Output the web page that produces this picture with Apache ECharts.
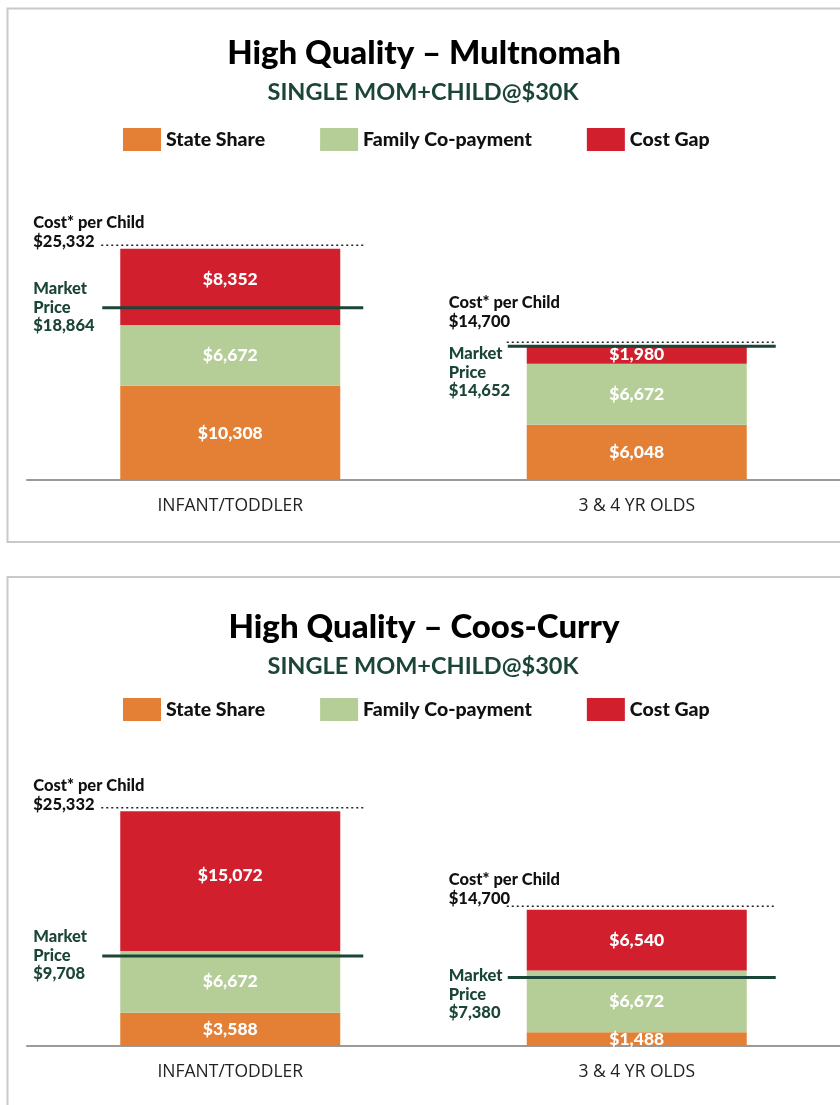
<!DOCTYPE html>
<html><head><meta charset="utf-8">
<script src="https://cdn.jsdelivr.net/npm/echarts@6/dist/echarts.min.js"></script>
<style>html,body{margin:0;padding:0;background:#fff}#c{width:840px;height:1105px}</style>
</head><body><div id="c"></div>
<script>
// ---------- data ----------
const categories = ['INFANT/TODDLER', '3 & 4 YR OLDS'];
const seriesNames = ['State Share', 'Family Co-payment', 'Cost Gap'];
const panelTitles = ['High Quality – Multnomah', 'High Quality – Coos-Curry'];
const subtitle = 'SINGLE MOM+CHILD@$30K';
const costLabel = 'Cost* per Child';
const marketLabel = ['Market', 'Price'];

// Multnomah
const multState = [10308, 6048];
const multCopay = [6672, 6672];
const multGap = [8352, 1980];
const multCost = [25332, 14700];
const multMarket = [18864, 14652];
// Coos-Curry
const coosState = [3588, 1488];
const coosCopay = [6672, 6672];
const coosGap = [15072, 6540];
const coosCost = [25332, 14700];
const coosMarket = [9708, 7380];

const yMax = 30000;

// ---------- style / layout ----------
const FONT = 'Lato, "Open Sans", sans-serif';
const FONT_REG = '"Open Sans", Lato, sans-serif';
const C_ORANGE = '#E38035', C_GREEN = '#B5CE98', C_RED = '#D11F2E', C_DARK = '#1B4536';
const panels = [
  { state: multState, copay: multCopay, gap: multGap, cost: multCost, market: multMarket,
    border: 8.5, titleY: 53, subY: 92, legendTop: 128, gridTop: 206, gridH: 274,
    costShift: [0, -18], marketShift: [0, 26.5], gapLabelDy: [-7, 0] },
  { state: coosState, copay: coosCopay, gap: coosGap, cost: coosCost, market: coosMarket,
    border: 577, titleY: 627, subY: 666, legendTop: 698, gridTop: 768, gridH: 278,
    costShift: [0, -5], marketShift: [0, 18], gapLabelDy: [-6, 0] }
];
const LABEL_DX = [-197, -188];
const LINE_EXT = [[-129, 133], [-130, 139]];

const fmt = v => '$' + Number(v).toLocaleString('en-US');

function refRender(p) {
  return function (params, api) {
    const i = api.value(0);
    const cost = api.value(1), market = api.value(2);
    const pc = api.coord([i, cost]);
    const pm = api.coord([i, market]);
    const cx = pc[0];
    const ext = LINE_EXT[i];
    const lx = cx + LABEL_DX[i];
    const yc = pc[1] - 3.5;
    const ym = pm[1];
    const cs = p.costShift[i], ms = p.marketShift[i];
    const txt = (t, x, y, color) => ({
      type: 'text', x: x, y: y,
      style: { text: t, fill: color, font: '900 16.5px ' + FONT, align: 'left', verticalAlign: 'middle' }
    });
    return {
      type: 'group',
      children: [
        { type: 'line', shape: { x1: cx + ext[0], y1: yc, x2: cx + ext[1], y2: yc },
          style: { stroke: '#222', lineWidth: 1.5, lineDash: [2, 3] } },
        { type: 'line', shape: { x1: cx + ext[0] + 1, y1: ym, x2: cx + ext[1], y2: ym },
          style: { stroke: C_DARK, lineWidth: 3 } },
        txt(costLabel, lx, yc - 22 + cs, '#111'),
        txt(fmt(cost), lx, yc - 3 + cs, '#111'),
        txt(marketLabel[0], lx, ym - 19.5 + ms, C_DARK),
        txt(marketLabel[1], lx, ym - 0.5 + ms, C_DARK),
        txt(fmt(market), lx, ym + 17.5 + ms, C_DARK)
      ]
    };
  };
}

const option = {
  animation: false,
  backgroundColor: '#fff',
  title: [],
  legend: [],
  grid: [],
  xAxis: [],
  yAxis: [],
  series: [],
  graphic: []
};

panels.forEach((p, k) => {
  option.graphic.push({ type: 'rect', shape: { x: 7.5, y: p.border, width: 900, height: 533.5 },
    style: { fill: 'none', stroke: '#c9c9c9', lineWidth: 2 }, silent: true });
  option.title.push({ text: panelTitles[k], left: 424, textAlign: 'center', top: p.titleY - 20, padding: 0,
    textStyle: { fontFamily: FONT, fontWeight: 900, fontSize: 33, color: '#000', lineHeight: 40 } });
  option.title.push({ text: subtitle, left: 423, textAlign: 'center', top: p.subY - 14, padding: 0,
    textStyle: { fontFamily: FONT, fontWeight: 'bold', fontSize: 23.5, color: C_DARK, lineHeight: 28 } });
  option.legend.push({ data: seriesNames, left: 123, top: p.legendTop, padding: 0, icon: 'rect',
    itemWidth: 38, itemHeight: 23, itemGap: 55, selectedMode: false,
    textStyle: { fontFamily: FONT, fontWeight: 900, fontSize: 19.5, color: '#111' } });
  option.grid.push({ left: 27, width: 815, top: p.gridTop, height: p.gridH });
  option.xAxis.push({ type: 'category', gridIndex: k, data: categories,
    axisLine: { show: true, lineStyle: { color: '#9a9a9a', width: 2 } },
    axisTick: { show: false },
    axisLabel: { fontFamily: FONT_REG, fontSize: 17.5, color: '#222', margin: 17 } });
  option.yAxis.push({ type: 'value', gridIndex: k, min: 0, max: yMax, show: false, splitLine: { show: false } });
  const lbl = { show: true, position: 'inside', color: '#fff', fontFamily: FONT, fontWeight: 900, fontSize: 17.5,
      formatter: pr => fmt(pr.value) };
  const mk = (name, data, color) => ({
    name: name, type: 'bar', stack: 'p' + k, xAxisIndex: k, yAxisIndex: k, barWidth: 220,
    data: data, itemStyle: { color: color }, label: lbl
  });
  option.series.push(mk(seriesNames[0], p.state, C_ORANGE));
  option.series.push(mk(seriesNames[1], p.copay, C_GREEN));
  const gapSeries = mk(seriesNames[2], p.gap.map((v, i) => ({ value: v, label: { offset: [0, p.gapLabelDy[i]] } })), C_RED);
  option.series.push(gapSeries);
  option.series.push({
    type: 'custom', xAxisIndex: k, yAxisIndex: k, z: 10, silent: true,
    renderItem: refRender(p),
    data: categories.map((c, i) => [i, p.cost[i], p.market[i]])
  });
});

const chart = echarts.init(document.getElementById('c'), null, { renderer: 'canvas' });
chart.setOption(option);
</script>
</body></html>
